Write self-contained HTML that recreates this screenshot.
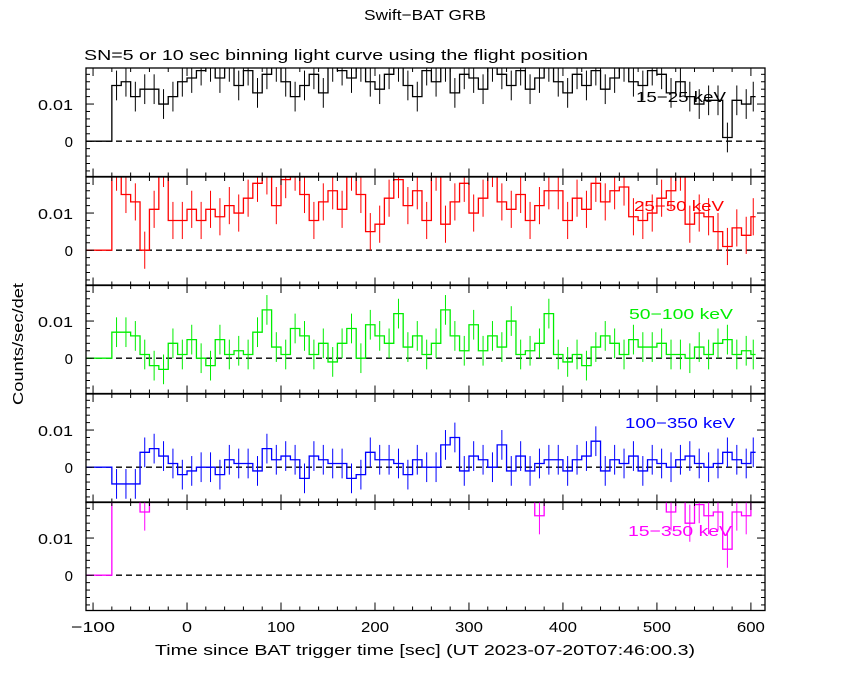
<!DOCTYPE html>
<html><head><meta charset="utf-8"><style>
body{margin:0;background:#fff}
svg{display:block;font-family:"Liberation Sans",sans-serif}
</style></head><body>
<svg id="c" width="850" height="680"></svg>
<script>
const t0 = -80, binW = 10;
const p1 = [0.015,0.016,0.012,0.014,0.014,0.010,0.012,0.016,0.017,0.019,0.020,0.017,0.020,0.015,0.019,0.013,0.018,0.020,0.016,0.012,0.015,0.018,0.013,0.020,0.019,0.017,0.020,0.016,0.014,0.018,0.020,0.015,0.012,0.019,0.016,0.020,0.013,0.018,0.017,0.014,0.020,0.018,0.015,0.019,0.014,0.017,0.020,0.016,0.013,0.018,0.015,0.019,0.014,0.017,0.020,0.016,0.015,0.019,0.018,0.013,0.016,0.012,0.010,0.011,0.011,0.001,0.011,0.010,0.012];
const p2 = [0.021,0.015,0.013,0.0,0.011,0.022,0.008,0.008,0.011,0.008,0.011,0.009,0.012,0.010,0.014,0.018,0.020,0.012,0.019,0.021,0.015,0.008,0.013,0.016,0.011,0.021,0.015,0.005,0.007,0.014,0.019,0.012,0.016,0.008,0.021,0.007,0.013,0.018,0.010,0.014,0.022,0.013,0.011,0.015,0.008,0.012,0.016,0.016,0.008,0.014,0.011,0.018,0.013,0.016,0.017,0.009,0.008,0.010,0.014,0.016,0.021,0.007,0.010,0.009,0.005,0.001,0.006,0.004,0.009];
const p3 = [0.007,0.007,0.006,0.001,-0.002,-0.003,0.004,0.001,0.005,0.0,-0.002,0.005,0.001,0.002,0.001,0.007,0.013,0.003,0.001,0.008,0.006,0.001,0.004,-0.001,0.004,0.008,0.0,0.009,0.006,0.004,0.012,0.003,0.006,0.001,0.004,0.013,0.006,0.002,0.009,0.002,0.006,0.003,0.010,0.001,0.002,0.004,0.012,0.001,-0.001,0.001,-0.002,0.003,0.006,0.004,0.001,0.005,0.003,0.003,0.004,0.001,0.001,0.0,0.003,0.001,0.004,0.005,0.001,0.002,0.001];
const p4 = [-0.0045,-0.0045,-0.0045,0.004,0.005,0.003,0.001,-0.002,-0.001,0.0,0.0,-0.002,0.002,0.001,0.001,-0.001,0.005,0.002,0.003,0.002,-0.003,0.003,0.002,0.001,0.001,-0.003,-0.002,0.004,0.002,0.002,0.001,-0.002,0.002,0.0,0.0,0.006,0.008,-0.001,0.003,0.002,0.0,0.006,-0.001,0.003,-0.001,0.001,0.002,0.002,-0.001,0.002,0.003,0.007,-0.001,0.002,0.001,0.003,-0.001,0.002,0.001,0.0,0.002,0.003,0.001,0.0,0.001,0.004,0.002,0.001,0.004];
const p5 = [0.03,0.03,0.03,0.017,0.03,0.03,0.03,0.03,0.03,0.03,0.03,0.03,0.03,0.03,0.03,0.03,0.03,0.03,0.03,0.03,0.03,0.03,0.03,0.03,0.03,0.03,0.03,0.03,0.03,0.03,0.03,0.03,0.03,0.03,0.03,0.03,0.03,0.03,0.03,0.03,0.03,0.03,0.03,0.03,0.03,0.016,0.03,0.03,0.03,0.03,0.03,0.03,0.03,0.03,0.03,0.03,0.03,0.03,0.03,0.017,0.03,0.014,0.019,0.016,0.017,0.007,0.017,0.016,0.03];
const errs = [0.004,0.005,0.004,0.004,0.005];
const series = [p1,p2,p3,p4,p5];
const labels = ["15\u221225 keV","25\u221250 keV","50\u2212100 keV","100\u2212350 keV","15\u2212350 keV"];
const colors = ["#000","#f00","#0e0","#00f","#f0f"];
const xTicks = [-100,0,100,200,300,400,500,600];
const yTicks = [0,0.01];

const NS="http://www.w3.org/2000/svg", svg=document.getElementById('c');
const L=86,R=765;
const tops=[68,177,285,394,502], H=108.5;
const X=t=>L+(t+107.5)*(R-L)/722.5;
const ymin=-0.0095, ymax=0.0197;
function Y(i,v){return tops[i]+H-(v-ymin)/(ymax-ymin)*H;}
function mk(tag,attrs,parent){const e=document.createElementNS(NS,tag);for(const k in attrs)e.setAttribute(k,attrs[k]);(parent||svg).appendChild(e);return e;}
function txt(s,x,y,a,parent){const e=mk('text',Object.assign({'font-size':15,x:x,y:y},a),parent);e.textContent=s;return e;}
function stretch(e,w){e.setAttribute('textLength',w);e.setAttribute('lengthAdjust','spacingAndGlyphs');}

const defs=mk('defs',{});
series.forEach((d,i)=>{
  const cp=mk('clipPath',{id:'cp'+i},defs);
  mk('rect',{x:L,y:tops[i],width:R-L,height:H},cp);
  const g=mk('g',{'clip-path':'url(#cp'+i+')'});
  
  
  mk('line',{x1:L,x2:R,y1:Y(i,0),y2:Y(i,0),stroke:'#000','stroke-dasharray':'6,4','stroke-width':1.3},g);
  let pts=[[X(-107.5),Y(i,0)],[X(t0),Y(i,0)]];
  d.forEach((v,k)=>{const a=t0+k*binW,b=Math.min(a+binW,605);pts.push([X(a),Y(i,v)],[X(b),Y(i,v)]);
    const m=(a+b)/2;
    mk('line',{x1:X(m),x2:X(m),y1:Y(i,v-errs[i]),y2:Y(i,v+errs[i]),stroke:colors[i],'stroke-width':1},g);
  });
  const p=mk('polyline',{points:pts.map(q=>q.join(',')).join(' '),fill:'none',stroke:colors[i],'stroke-width':1.3},g);
  
  
  mk('rect',{x:L,y:tops[i],width:R-L,height:H,fill:'none',stroke:'#000','stroke-width':1.3});
  for(let t=-100;t<=600;t+=20){const maj=t%100===0,len=maj?8:4;
    mk('line',{x1:X(t),x2:X(t),y1:tops[i],y2:tops[i]+len,stroke:'#000'});
    mk('line',{x1:X(t),x2:X(t),y1:tops[i]+H,y2:tops[i]+H-len,stroke:'#000'});}
  for(let n=-4;n<=9;n++){const v=n*0.002,maj=(n%5===0),len=maj?8:4;
    mk('line',{x1:L,x2:L+len,y1:Y(i,v),y2:Y(i,v),stroke:'#000'});
    mk('line',{x1:R,x2:R-len,y1:Y(i,v),y2:Y(i,v),stroke:'#000'});}
  yTicks.forEach(v=>{const e=txt(v===0?'0':'0.01',73,Y(i,v)+6,{'text-anchor':'end'});
    if(v!==0)stretch(e,35);
    });
  const lb=txt(labels[i],[636,634,629,625,628][i],tops[i]+34,{fill:colors[i]});
  stretch(lb,[90,90,104,110,104][i]);
  
});
xTicks.forEach(t=>{const e=txt(t<0?'\u2212'+(-t):String(t),X(t),632,{'text-anchor':'middle'});
  stretch(e,t<0?44:(t===0?10:28));
  });
let e=txt('Swift\u2212BAT GRB',425,20,{'text-anchor':'middle'});
stretch(e,122);

e=txt('SN=5 or 10 sec binning light curve using the flight position',84,60,{});
stretch(e,504);

e=txt('Time since BAT trigger time [sec] (UT 2023-07-20T07:46:00.3)',425,655,{'text-anchor':'middle'});
stretch(e,540);

e=txt('Counts/sec/det',23,344,{'text-anchor':'middle',transform:'rotate(-90 23 344)'});
stretch(e,122);

</script>
</body></html>
